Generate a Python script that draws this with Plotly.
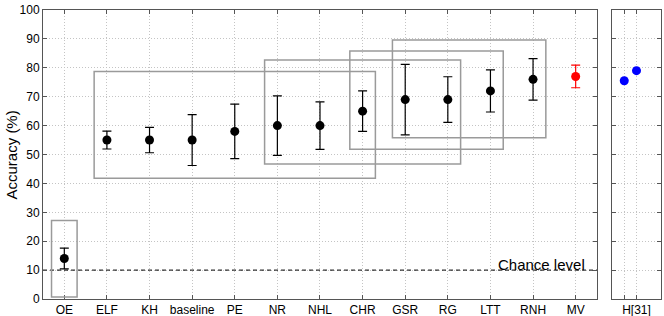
import plotly.graph_objects as go

categories = ["OE", "ELF", "KH", "baseline", "PE", "NR", "NHL", "CHR", "GSR", "RG", "LTT", "RNH", "MV"]
means = [14, 55, 55, 55, 58, 60, 60, 65, 69, 69, 72, 76, 77]
errors = [3.6, 3.1, 4.4, 8.8, 9.4, 10.3, 8.2, 7.0, 12.2, 7.9, 7.3, 7.2, 3.9]

h31_x = [1, 2]
h31_values = [75.5, 79.0]

box_x0 = [0.7, 1.7, 5.7, 7.7, 8.7]
box_x1 = [1.3, 8.3, 10.3, 11.3, 12.3]
box_y0 = [0.7, 41.8, 46.7, 51.8, 55.8]
box_y1 = [27.2, 78.7, 82.7, 85.8, 89.6]

chance_level = 10
y_ticks = list(range(0, 101, 10))

xpos = list(range(1, len(categories) + 1))
FONT = "Liberation Sans, Arial, sans-serif"

fig = go.Figure()

# chance level dashed line
fig.add_trace(go.Scatter(x=[0.5, len(categories) + 0.5], y=[chance_level, chance_level],
                         mode="lines", line=dict(color="black", width=1, dash="4px,3px"),
                         hoverinfo="skip", showlegend=False, xaxis="x", yaxis="y"))

# boxes
for x0, x1, y0, y1 in zip(box_x0, box_x1, box_y0, box_y1):
    fig.add_shape(type="rect", xref="x", yref="y", x0=x0, x1=x1, y0=y0, y1=y1,
                  line=dict(color="#9a9a9a", width=1.5), fillcolor="rgba(0,0,0,0)", layer="above")

# black points (all but MV)
n = len(categories) - 1
fig.add_trace(go.Scatter(x=xpos[:n], y=means[:n], mode="markers",
                         marker=dict(color="black", size=9),
                         error_y=dict(type="data", array=errors[:n], color="black", thickness=1.2, width=4.5),
                         showlegend=False, xaxis="x", yaxis="y"))
# MV red
fig.add_trace(go.Scatter(x=xpos[n:], y=means[n:], mode="markers",
                         marker=dict(color="#ff0000", size=9),
                         error_y=dict(type="data", array=errors[n:], color="#ff0000", thickness=1.2, width=4.5),
                         showlegend=False, xaxis="x", yaxis="y"))

# right panel
fig.add_trace(go.Scatter(x=h31_x, y=h31_values, mode="markers",
                         marker=dict(color="#0000ff", size=9),
                         showlegend=False, xaxis="x2", yaxis="y2"))

fig.add_annotation(x=len(categories) + 0.27, y=chance_level, xref="x", yref="y",
                   text="Chance level", showarrow=False, xanchor="right", yanchor="middle",
                   yshift=6, font=dict(family=FONT, size=15, color="black"))

fig.add_annotation(x=-0.0502, y=0.5, xref="paper", yref="paper", text="Accuracy (%)",
                   textangle=-90, showarrow=False, xanchor="center", yanchor="middle",
                   font=dict(family=FONT, size=15, color="black"))

axis_common = dict(showline=True, linecolor="#555555", linewidth=1, mirror="ticks",
                   ticks="inside", ticklen=4, tickcolor="#555555", automargin=False,
                   showgrid=True, gridcolor="#c4c4c4", griddash="1px,2px", gridwidth=1,
                   zeroline=False, tickfont=dict(family=FONT, size=12, color="black"))

fig.update_layout(
    width=664, height=316,
    margin=dict(l=43, r=3, t=10, b=17),
    paper_bgcolor="white", plot_bgcolor="white",
    font=dict(family=FONT, size=12, color="black"),
    xaxis=dict(domain=[0, 0.8964], range=[0.5, len(categories) + 0.5],
               tickvals=xpos, ticktext=categories, **axis_common),
    yaxis=dict(range=[0, 100], tickvals=y_ticks, **axis_common),
    xaxis2=dict(domain=[0.9207, 1.0], range=[0, 4], anchor="y2",
                tickvals=h31_x, ticktext=["", "H[31]"], **axis_common),
    yaxis2=dict(range=[0, 100], tickvals=y_ticks, anchor="x2", showticklabels=False,
                **axis_common),
)

# remove the default 8px page margin so the figure fills the window exactly
fig.write_html("out.html", config={"displayModeBar": False},
               post_script="document.body.style.margin='0';")
